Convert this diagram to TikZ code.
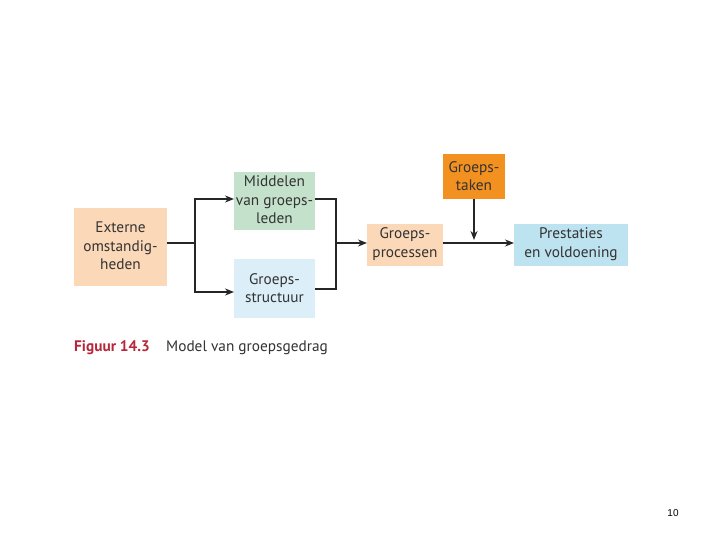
\documentclass[tikz,border=0pt]{standalone}
\usepackage{fontspec}
\setmainfont{PT Sans}
\newfontfamily\arialfont{Liberation Sans}
\usetikzlibrary{arrows.meta}
\definecolor{peach}{HTML}{FBD9B8}
\definecolor{mint}{HTML}{C4E2CB}
\definecolor{paleblue}{HTML}{DCEFF8}
\definecolor{skyblue}{HTML}{BEE3F0}
\definecolor{orng}{HTML}{F2911F}
\definecolor{txt}{HTML}{333333}
\definecolor{figred}{HTML}{B5283A}
\begin{document}
\begin{tikzpicture}[x=1pt,y=-1pt,
  box/.style={inner sep=0pt, text=txt, font=\fontsize{15.3}{18.5}\selectfont, align=center},
  conn/.style={line width=1.7pt, draw=black!85},
  arr/.style={conn, -{Stealth[length=9pt,width=7pt]}}]
\useasboundingbox (0,0) rectangle (720,540);
\fill[white] (0,0) rectangle (720,540);
% boxes
\fill[peach] (74,208) rectangle (167,286);
\node[box] (ext) at (120.5,246) {Externe\\omstandig-\\heden};
\fill[mint] (234,172) rectangle (315,230);
\node[box] (mid) at (274.5,200) {Middelen\\van groeps-\\leden};
\fill[paleblue] (234,259) rectangle (315,318);
\node[box] (str) at (274.5,288) {Groeps-\\structuur};
\fill[peach] (367,224) rectangle (443,266);
\node[box] (proc) at (405,244) {Groeps-\\processen};
\fill[orng] (443,154) rectangle (505,199);
\node[box] (tak) at (474,176) {Groeps-\\taken};
\fill[skyblue] (514,224) rectangle (628,266);
\node[box] (pres) at (571,244) {Prestaties\\en voldoening};
% coordinates
\coordinate (extR) at (167,243);
\coordinate (split) at (195,243);
\coordinate (midL) at (234,199);
\coordinate (strL) at (234,292);
\coordinate (midR) at (315,199);
\coordinate (strR) at (315,289);
\coordinate (join) at (336,243);
\coordinate (procL) at (367,243);
\coordinate (procR) at (443,243);
\coordinate (presL) at (514,243);
\coordinate (takB) at (474,199);
\coordinate (takE) at (474,240);
% connectors
\draw[conn] (extR) -- (split);
\draw[arr] (split) |- (midL);
\draw[arr] (split) |- (strL);
\draw[conn] (midR) -| (join) |- (strR);
\draw[arr] (join) -- (procL);
\draw[arr] (procR) -- (presL);
\draw[arr] (takB) -- (takE);
% caption
\node[anchor=west, inner sep=0pt, text=figred, font=\fontsize{15.3}{18}\selectfont\bfseries] (fig) at (74,348) {Figuur 14.3};
\node[anchor=west, inner sep=0pt, text=txt, font=\fontsize{15.3}{18}\selectfont] (cap) at (166,348) {Model van groepsgedrag};
\node[inner sep=0pt, font=\arialfont\fontsize{10}{12}\selectfont] (pg) at (673,513) {10};
\end{tikzpicture}
\end{document}
